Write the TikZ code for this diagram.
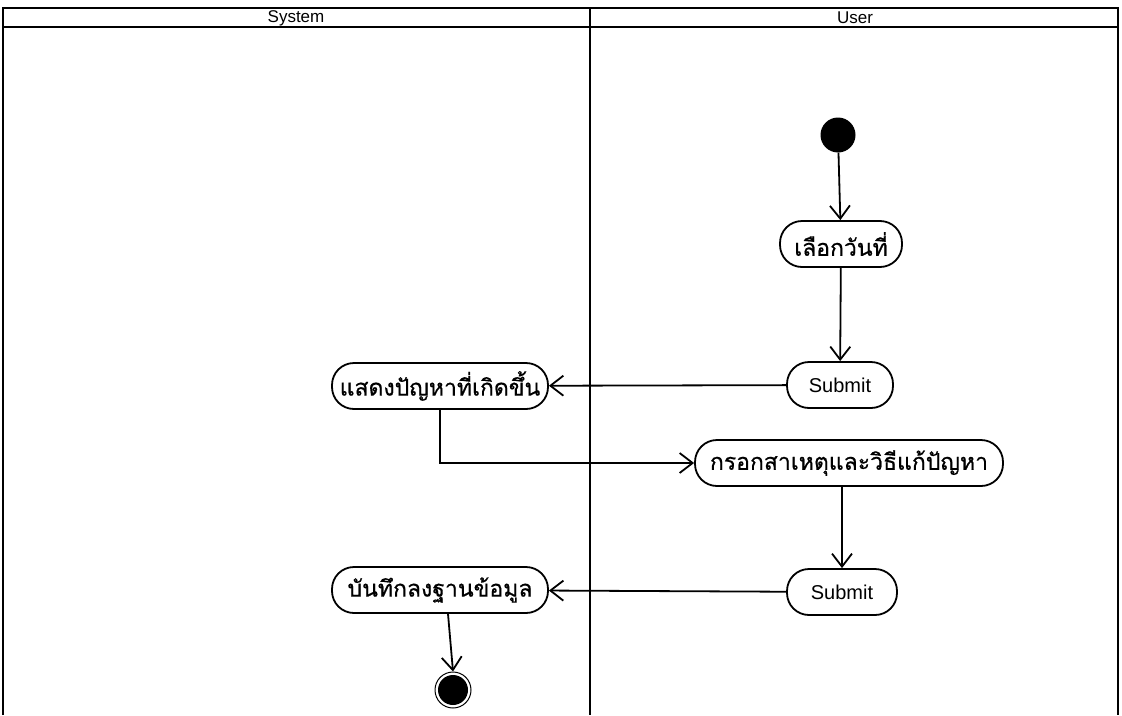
\documentclass[tikz,border=0pt]{standalone}
\usepackage{fontspec}
\setmainfont{Liberation Sans}
\newfontfamily\thaifont[Script=Thai,FakeBold=0.6]{Loma}
\usetikzlibrary{arrows.meta}
\begin{document}
\begin{tikzpicture}[x=1pt,y=-1pt,
  lane/.style={line width=1.8pt},
  action/.style={draw,line width=1.8pt,rectangle,rounded corners=22pt,
    minimum height=46pt,inner xsep=6pt,font=\thaifont\fontsize{23}{26}\selectfont},
  flow/.style={line width=1.8pt,-{Straight Barb[length=13pt,width=20pt,line width=1.8pt]}},
  lanetitle/.style={inner sep=0pt,font=\fontsize{17}{19}\selectfont}]
\useasboundingbox (0,0) rectangle (1122,715);
% swimlane frame
\draw[lane] (3,715) -- (3,8) -- (1118,8) -- (1118,715);
\draw[lane] (3,27) -- (1118,27);
\draw[lane] (590,8) -- (590,715);
\node[lanetitle] (hsys) at (296,18) {System};
\node[lanetitle] (husr) at (855,18) {User};
% user lane
\node[circle,fill=black,minimum size=35pt,inner sep=0pt] (start) at (838,135) {};
\node[action,minimum width=122pt] (pick) at (841,244) {เลือกวันที่};
\node[action,minimum width=106pt,font=\fontsize{20}{22}\selectfont] (sub1) at (840,385) {Submit};
\node[action,minimum width=308pt] (fill) at (849,463) {กรอกสาเหตุและวิธีแก้ปัญหา};
\node[action,minimum width=110pt,font=\fontsize{20}{22}\selectfont] (sub2) at (842,592) {Submit};
% system lane
\node[action,minimum width=216pt] (show) at (440,386) {แสดงปัญหาที่เกิดขึ้น};
\node[action,minimum width=216pt] (save) at (440,590) {บันทึกลงฐานข้อมูล};
\node[circle,draw,line width=1pt,minimum size=36pt,inner sep=0pt] (stop) at (453,690) {};
\node[circle,fill=black,minimum size=30pt,inner sep=0pt] (stopdot) at (stop.center) {};
% flows
\draw[flow] (start) -- (pick);
\draw[flow] (pick) -- (sub1);
\draw[flow] (sub1) -- (show);
\draw[flow] (show.south) |- (fill.west);
\draw[flow] (fill.south -| sub2.north) -- (sub2);
\draw[flow] (sub2) -- (save);
\draw[flow] ([xshift=8pt]save.south) -- (stop.north);
\end{tikzpicture}
\end{document}
